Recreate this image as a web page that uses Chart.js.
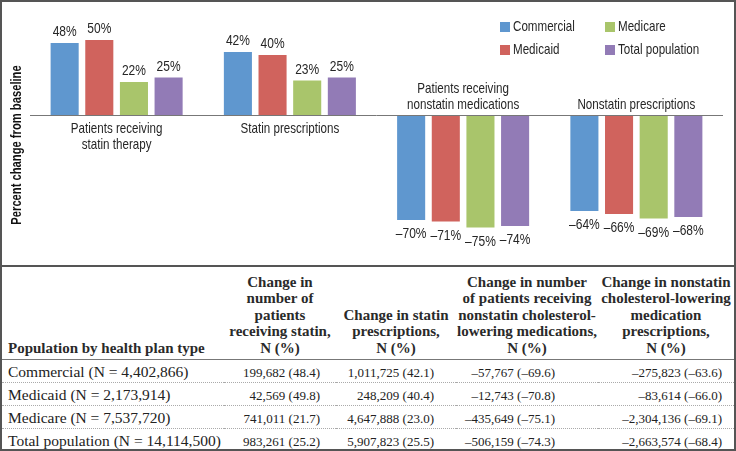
<!DOCTYPE html>
<html>
<head>
<meta charset="utf-8">
<script src="https://cdn.jsdelivr.net/npm/chart.js@4.4.0/dist/chart.umd.min.js"></script>
<style>
  body { margin: 0; background: #fff; }
  #frame { width: 736px; height: 451px; box-sizing: border-box; border: 2px solid #555; overflow: hidden; background: #fff; }
  #chartBox { position: relative; width: 732px; height: 263px; }
  table { border-collapse: collapse; table-layout: fixed; width: 732px; border-top: 2px solid #555;
          font-family: "Liberation Serif", "DejaVu Serif", serif; color: #222; }
  th { font-weight: bold; font-size: 15px; line-height: 16.5px; text-align: center; vertical-align: bottom;
       padding: 0 0 3px 0; height: 89px; border-bottom: 1px solid #777; white-space: nowrap; color: #2a2a2a; }
  th.first { text-align: left; padding-left: 6px; }
  td { height: 21px; padding: 0 0 1px 0; font-size: 13px; text-align: right; vertical-align: bottom;
       border-bottom: 1px dotted #aaa; white-space: nowrap; }
  tr:last-child td { border-bottom: none; }
  td.first { text-align: left; padding-left: 6px; font-size: 15.5px; }
</style>
</head>
<body>
<div id="frame">
  <div id="chartBox"><canvas id="chart"></canvas></div>
  <table id="table"></table>
</div>
<script>
// chart data
var categories = [['Patients receiving', 'statin therapy'], 'Statin prescriptions',
                  ['Patients receiving', 'nonstatin medications'], 'Nonstatin prescriptions'];
var seriesNames = ['Commercial', 'Medicaid', 'Medicare', 'Total population'];
var commercial = [48, 42, -70, -64];
var medicaid = [50, 40, -71, -66];
var medicare = [22, 23, -75, -69];
var totalPopulation = [25, 25, -74, -68];
var seriesColors = ['#5f97cf', '#d0635d', '#a9c56b', '#927bb6'];
var yTitle = 'Percent change from baseline';

// table data
var tableHeaders = ['Population by health plan type',
                    'Change in<br>number of<br>patients<br>receiving statin,<br>N (%)',
                    'Change in statin<br>prescriptions,<br>N (%)',
                    'Change in number<br>of patients receiving<br>nonstatin cholesterol-<br>lowering medications,<br>N (%)',
                    'Change in nonstatin<br>cholesterol-lowering<br>medication<br>prescriptions,<br>N (%)'];
var rowLabels = ['Commercial (N = 4,402,866)', 'Medicaid (N = 2,173,914)',
                 'Medicare (N = 7,537,720)', 'Total population (N = 14,114,500)'];
var statinPatients = ['199,682 (48.4)', '42,569 (49.8)', '741,011 (21.7)', '983,261 (25.2)'];
var statinScripts = ['1,011,725 (42.1)', '248,209 (40.4)', '4,647,888 (23.0)', '5,907,823 (25.5)'];
var nonstatinPatients = ['\u201357,767 (\u201369.6)', '\u201312,743 (\u201370.8)', '\u2013435,649 (\u201375.1)', '\u2013506,159 (\u201374.3)'];
var nonstatinScripts = ['\u2013275,823 (\u201363.6)', '\u201383,614 (\u201366.0)', '\u20132,304,136 (\u201369.1)', '\u20132,663,574 (\u201368.4)'];

var colWidths = [222, 112, 120, 142, 136];
var colPadRight = [0, 16, 22, 43, 12];

var chartFont = '"Liberation Sans", Arial, sans-serif';
var squeeze = 0.8;   // narrow the Arial-like face to look like a condensed one
var textColor = '#262626';

function buildTable() {
    var html = '<colgroup>';
    for (var c = 0; c < colWidths.length; ++c) {
        html += '<col style="width:' + colWidths[c] + 'px">';
    }
    html += '</colgroup><tr>';
    for (var h = 0; h < tableHeaders.length; ++h) {
        html += '<th' + (h === 0 ? ' class="first"' : '') + '>' + tableHeaders[h] + '</th>';
    }
    html += '</tr>';
    var cols = [statinPatients, statinScripts, nonstatinPatients, nonstatinScripts];
    for (var r = 0; r < rowLabels.length; ++r) {
        html += '<tr><td class="first">' + rowLabels[r] + '</td>';
        for (var k = 0; k < cols.length; ++k) {
            html += '<td style="padding-right:' + colPadRight[k + 1] + 'px">' + cols[k][r] + '</td>';
        }
        html += '</tr>';
    }
    document.getElementById('table').innerHTML = html;
}

function fmt(v) {
    return (v < 0 ? '\u2013' + Math.abs(v) : v) + '%';
}

function narrowText(ctx, text, x, y, rotate) {
    ctx.save();
    ctx.translate(x, y);
    if (rotate) ctx.rotate(-Math.PI / 2);
    ctx.scale(squeeze, 1);
    ctx.fillText(text, 0, 0);
    ctx.restore();
}

// zero line, bar value labels, category labels, y title
var annotatePlugin = {
    id: 'annotate',
    afterDatasetsDraw: function (chart) {
        var ctx = chart.ctx;
        var area = chart.chartArea;
        var x = chart.scales.x;
        var y = chart.scales.y;
        var zeroY = Math.round(y.getPixelForValue(0)) + 0.5;

        ctx.save();
        ctx.strokeStyle = '#777';
        ctx.lineWidth = 1;
        ctx.beginPath();
        ctx.moveTo(area.left, zeroY);
        ctx.lineTo(area.right, zeroY);
        ctx.stroke();

        ctx.fillStyle = textColor;
        ctx.font = '15px ' + chartFont;
        ctx.textAlign = 'center';
        ctx.textBaseline = 'middle';
        chart.data.datasets.forEach(function (ds, i) {
            chart.getDatasetMeta(i).data.forEach(function (bar, j) {
                var v = ds.data[j];
                narrowText(ctx, fmt(v), bar.x, v >= 0 ? bar.y - 11 : bar.y + 14);
            });
        });

        ctx.font = '14.5px ' + chartFont;
        chart.data.labels.forEach(function (label, j) {
            var lines = Array.isArray(label) ? label : [label];
            var cx = x.getPixelForValue(j);
            var positive = chart.data.datasets[0].data[j] >= 0;
            var startY = positive ? zeroY + 13 : zeroY - 11 - (lines.length - 1) * 16;
            lines.forEach(function (line, k) {
                narrowText(ctx, line, cx, startY + k * 16);
            });
        });

        ctx.fillStyle = '#111';
        ctx.font = 'bold 14px ' + chartFont;
        narrowText(ctx, yTitle, 15, (area.top + area.bottom) / 2, true);
        ctx.restore();
    }
};

// 2x2 legend, column by column
var legendPlugin = {
    id: 'gridLegend',
    afterDraw: function (chart) {
        var ctx = chart.ctx;
        ctx.save();
        ctx.font = '14.5px ' + chartFont;
        ctx.textBaseline = 'middle';
        ctx.textAlign = 'left';
        chart.data.datasets.forEach(function (ds, i) {
            var col = Math.floor(i / 2);
            var row = i % 2;
            var bx = 498 + col * 105;
            var by = 25 + row * 23;
            ctx.fillStyle = ds.backgroundColor;
            ctx.fillRect(bx, by - 5, 10, 10);
            ctx.fillStyle = textColor;
            narrowText(ctx, ds.label, bx + 13, by);
        });
        ctx.restore();
    }
};

var seriesData = [commercial, medicaid, medicare, totalPopulation];
var datasets = [];
for (var i = 0; i < seriesNames.length; ++i) {
    datasets.push({
        label: seriesNames[i],
        data: seriesData[i],
        backgroundColor: seriesColors[i],
        borderWidth: 0,
        barPercentage: 0.81,
        categoryPercentage: 0.8
    });
}

buildTable();

new Chart(document.getElementById('chart'), {
    type: 'bar',
    data: { labels: categories, datasets: datasets },
    options: {
        responsive: true,
        maintainAspectRatio: false,
        animation: false,
        layout: { padding: { left: 28, right: 11, top: 28, bottom: 5 } },
        plugins: { legend: { display: false }, tooltip: { enabled: false } },
        scales: {
            x: { display: false },
            y: { display: false, min: -96.67, max: 56.67 }
        }
    },
    plugins: [annotatePlugin, legendPlugin]
});
</script>
</body>
</html>
